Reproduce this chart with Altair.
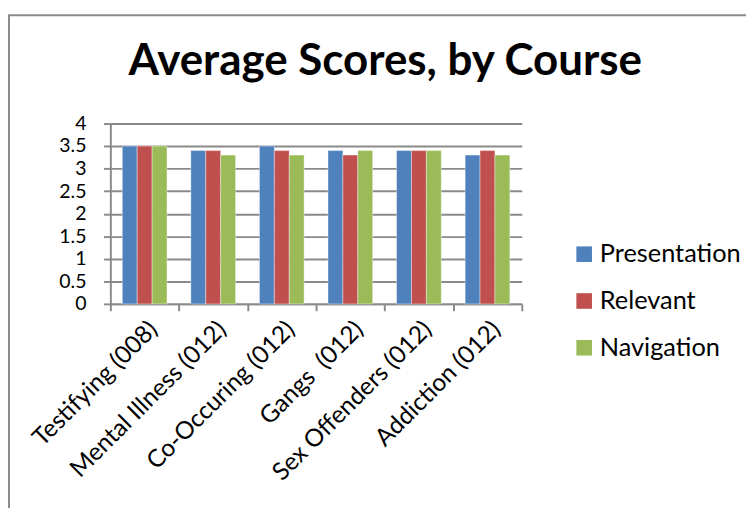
import altair as alt
import pandas as pd

courses = ["Testifying (008)", "Mental Illness (012)", "Co-Occuring (012)",
           "Gangs\u00a0 (012)", "Sex Offenders (012)", "Addiction (012)"]
series = ["Presentation", "Relevant", "Navigation"]
presentation = [3.5, 3.4, 3.5, 3.4, 3.4, 3.3]
relevant = [3.5, 3.4, 3.4, 3.3, 3.4, 3.4]
navigation = [3.5, 3.3, 3.3, 3.4, 3.4, 3.3]
colors = ["#4F81BD", "#C0504D", "#9BBB59"]
y_ticks = [0, 0.5, 1, 1.5, 2, 2.5, 3, 3.5, 4]

rows = []
for name, vals in zip(series, [presentation, relevant, navigation]):
    for c, v in zip(courses, vals):
        rows.append({"course": c, "series": name, "value": v})
df = pd.DataFrame(rows)

GRID = "#8a8a8a"
FONT = "Lato"

bars = alt.Chart(df).mark_bar(stroke="white", strokeWidth=0.4).encode(
    x=alt.X("course:N", sort=courses,
            scale=alt.Scale(paddingInner=0, paddingOuter=0),
            axis=alt.Axis(title=None, labelAngle=-45, tickBand="extent",
                          grid=False, domainColor=GRID, domainWidth=2,
                          tickColor=GRID, tickWidth=2, tickSize=7,
                          labelFont=FONT, labelFontSize=25, labelColor="black",
                          labelPadding=6, labelLimit=400)),
    xOffset=alt.XOffset("series:N", sort=series,
                        scale=alt.Scale(paddingInner=0, paddingOuter=0.8)),
    y=alt.Y("value:Q", scale=alt.Scale(domain=[0, 4], nice=False),
            axis=alt.Axis(title=None, values=y_ticks, format="~g",
                          grid=True, gridColor=GRID, gridWidth=2,
                          domainColor=GRID, domainWidth=2,
                          tickColor=GRID, tickWidth=2, tickSize=7,
                          labelFont=FONT, labelFontSize=20, labelColor="black",
                          labelPadding=18)),
    color=alt.Color("series:N", sort=series,
                    scale=alt.Scale(domain=series, range=colors),
                    legend=alt.Legend(title=None, orient="none", legendX=473, legendY=121,
                                      symbolType="square", symbolSize=256,
                                      symbolStrokeWidth=0, labelFont=FONT,
                                      labelFontSize=26, labelColor="black",
                                      rowPadding=22, labelOffset=3, padding=0)),
)

frame = alt.Chart(pd.DataFrame({"f": [0]})).mark_rect(
    fill="transparent", stroke="#8a8a8a", strokeWidth=2
).encode(x=alt.value(-104), y=alt.value(-111), x2=alt.value(900), y2=alt.value(700))

chart = alt.layer(frame, bars).properties(
    width=422, height=185,
    title=alt.Title("Average Scores, by Course", font=FONT, fontSize=45,
                    fontWeight="bold", color="black", anchor="middle",
                    dx=71, offset=-107, baseline="alphabetic"),
    autosize=alt.AutoSizeParams(type="none"),
    padding={"left": 105, "top": 112, "right": 230, "bottom": 210},
).configure_view(strokeWidth=0)

chart.save("out.html", embed_options={"renderer": "svg", "actions": False})
